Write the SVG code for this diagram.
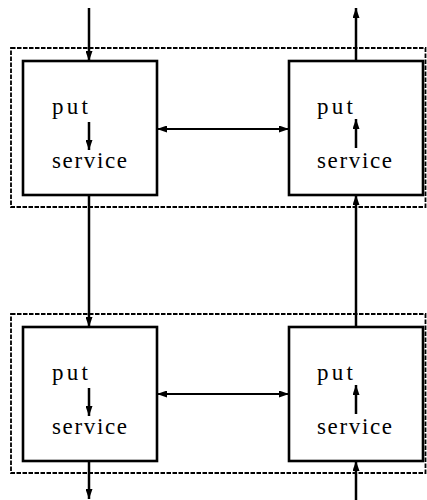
<svg xmlns="http://www.w3.org/2000/svg" width="427" height="500" viewBox="0 0 427 500">
<style>
.box{fill:#fff;stroke:#000;stroke-width:2.6}
.grp{fill:none;stroke:#000;stroke-width:1.8;stroke-dasharray:4.5 1.5}
.c{stroke:#000;stroke-width:2.5;fill:none}
.h{stroke:#000;stroke-width:2;fill:none}
.t{font-family:"Liberation Serif","DejaVu Serif",serif;font-size:23px;fill:#000}
</style>
<defs>
<marker id="a" viewBox="0 0 10 7" refX="10" refY="3.5" markerWidth="10" markerHeight="7" markerUnits="userSpaceOnUse" orient="auto-start-reverse">
<path d="M0,0 L10,3.5 L0,7 Z" fill="#000"/>
</marker>
</defs>
<rect class="grp" x="11" y="48" width="414.5" height="159"/>
<rect class="grp" x="11" y="314" width="414.5" height="159"/>
<g id="n1">
<rect class="box" x="23" y="61" width="134" height="134"/>
<text class="t" x="52" y="114" textLength="36" lengthAdjust="spacing">put</text>
<text class="t" x="52" y="168" textLength="75" lengthAdjust="spacing">service</text>
</g>
<g id="n2">
<rect class="box" x="289" y="61" width="134" height="134"/>
<text class="t" x="317" y="114" textLength="36" lengthAdjust="spacing">put</text>
<text class="t" x="317" y="168" textLength="75" lengthAdjust="spacing">service</text>
</g>
<g id="n3">
<rect class="box" x="23" y="327" width="134" height="134"/>
<text class="t" x="52" y="380" textLength="36" lengthAdjust="spacing">put</text>
<text class="t" x="52" y="434" textLength="75" lengthAdjust="spacing">service</text>
</g>
<g id="n4">
<rect class="box" x="289" y="327" width="134" height="134"/>
<text class="t" x="317" y="380" textLength="36" lengthAdjust="spacing">put</text>
<text class="t" x="317" y="434" textLength="75" lengthAdjust="spacing">service</text>
</g>
<g id="connectors">
<line class="c" x1="89" y1="8" x2="89" y2="61" marker-end="url(#a)"/>
<line class="c" x1="356" y1="61" x2="356" y2="8" marker-end="url(#a)"/>
<line class="c" x1="89" y1="195" x2="89" y2="327" marker-end="url(#a)"/>
<line class="c" x1="356" y1="327" x2="356" y2="195" marker-end="url(#a)"/>
<line class="c" x1="89" y1="461" x2="89" y2="499" marker-end="url(#a)"/>
<line class="c" x1="356" y1="500" x2="356" y2="461" marker-end="url(#a)"/>
<line class="h" x1="157" y1="129" x2="289" y2="129" marker-start="url(#a)" marker-end="url(#a)"/>
<line class="h" x1="157" y1="394" x2="289" y2="394" marker-start="url(#a)" marker-end="url(#a)"/>
<line class="c" x1="89" y1="122" x2="89" y2="150" marker-end="url(#a)"/>
<line class="c" x1="356" y1="148" x2="356" y2="119" marker-end="url(#a)"/>
<line class="c" x1="89" y1="388" x2="89" y2="416" marker-end="url(#a)"/>
<line class="c" x1="356" y1="414" x2="356" y2="385" marker-end="url(#a)"/>
</g>
</svg>
